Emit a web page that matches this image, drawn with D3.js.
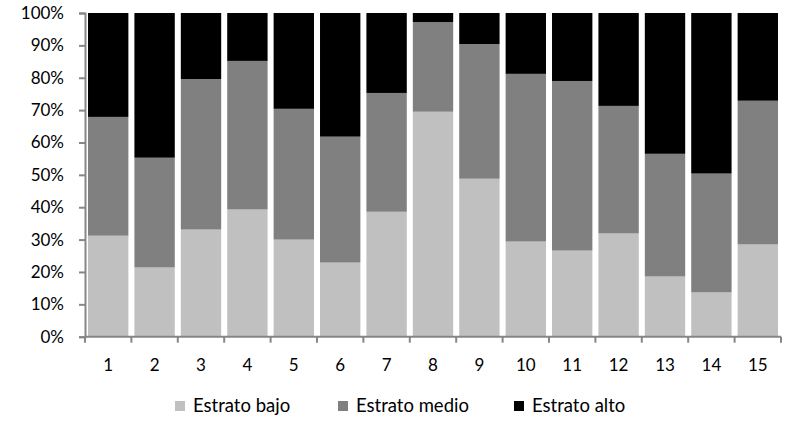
<!DOCTYPE html>
<html>
<head>
<meta charset="utf-8">
<script src="https://cdn.jsdelivr.net/npm/d3@7"></script>
<style>
  body { margin: 0; background: #fff; }
  svg text { font-family: Lato, "Open Sans", sans-serif; fill: #000; }
</style>
</head>
<body>
<svg id="chart"></svg>
<script>
// categories and series (percent of each bar)
const categories = ["1","2","3","4","5","6","7","8","9","10","11","12","13","14","15"];
const bajo  = [31.2, 21.4, 33.1, 39.3, 30.0, 22.9, 38.6, 69.5, 48.8, 29.4, 26.6, 31.9, 18.6, 13.7, 28.5];
const medio = [36.7, 33.9, 46.5, 45.9, 40.4, 38.9, 36.7, 27.7, 41.6, 51.8, 52.4, 39.4, 37.9, 36.7, 44.4];
const alto  = [32.1, 44.7, 20.4, 14.8, 29.6, 38.2, 24.7,  2.8,  9.6, 18.8, 21.0, 28.7, 43.5, 49.6, 27.1];
const seriesNames = ["Estrato bajo", "Estrato medio", "Estrato alto"];
const seriesColors = ["#c0c0c0", "#808080", "#000000"];
const yTicks = [0, 10, 20, 30, 40, 50, 60, 70, 80, 90, 100];

const W = 787, H = 422;
const margin = { left: 85, right: 6, top: 13, bottom: 85 };

const svg = d3.select("#chart").attr("width", W).attr("height", H);

const rows = categories.map((c, i) => ({ cat: c, b: bajo[i], m: medio[i], a: alto[i] }));
const stack = d3.stack().keys(["b", "m", "a"]);
const layers = stack(rows);

const x = d3.scaleBand()
  .domain(categories)
  .range([margin.left, W - margin.right])
  .paddingInner(0.13)
  .paddingOuter(0.065);

const y = d3.scaleLinear()
  .domain([0, 100])
  .range([H - margin.bottom - 0.3, margin.top]);

// bars
svg.selectAll(".layer")
  .data(layers)
  .join("g")
    .attr("fill", (d, i) => seriesColors[i])
  .selectAll("rect")
  .data(d => d)
  .join("rect")
    .attr("x", d => x(d.data.cat))
    .attr("width", x.bandwidth())
    .attr("y", d => y(d[1]))
    .attr("height", d => y(d[0]) - y(d[1]));

// y axis
const yAxis = d3.axisLeft(y)
  .tickValues(yTicks)
  .tickFormat(d => d + "%")
  .tickSize(6)
  .tickPadding(15);
const gy = svg.append("g")
  .attr("transform", `translate(${margin.left},0)`)
  .call(yAxis);
gy.select(".domain").attr("stroke", "#868686").attr("stroke-width", 2);
gy.selectAll(".tick line").attr("stroke", "#868686").attr("stroke-width", 2);
gy.selectAll(".tick text").attr("font-size", 17).attr("fill", "#000")
  .attr("font-family", "Lato, sans-serif");

// x axis with ticks between categories
const y0 = y(0);
const gx = svg.append("g");
gx.append("line")
  .attr("x1", margin.left).attr("x2", W - margin.right)
  .attr("y1", y0).attr("y2", y0)
  .attr("stroke", "#868686").attr("stroke-width", 2);
const bounds = d3.range(categories.length + 1).map(i => margin.left + i * (W - margin.right - margin.left) / categories.length);
gx.selectAll(".sep")
  .data(bounds)
  .join("line")
    .attr("x1", d => d).attr("x2", d => d)
    .attr("y1", y0).attr("y2", y0 + 6)
    .attr("stroke", "#868686").attr("stroke-width", 2);
gx.selectAll(".lab")
  .data(categories)
  .join("text")
    .attr("x", d => x(d) + x.bandwidth() / 2)
    .attr("y", 371)
    .attr("text-anchor", "middle")
    .attr("font-size", 17)
    .text(d => d);

// legend
const legendX = [175, 338, 514];
const lg = svg.append("g");
seriesNames.forEach((name, i) => {
  lg.append("rect")
    .attr("x", legendX[i]).attr("y", 401)
    .attr("width", 10).attr("height", 10)
    .attr("fill", seriesColors[i]);
  lg.append("text")
    .attr("x", legendX[i] + 18).attr("y", 412)
    .attr("font-size", 18.5)
    .text(name);
});
</script>
</body>
</html>
